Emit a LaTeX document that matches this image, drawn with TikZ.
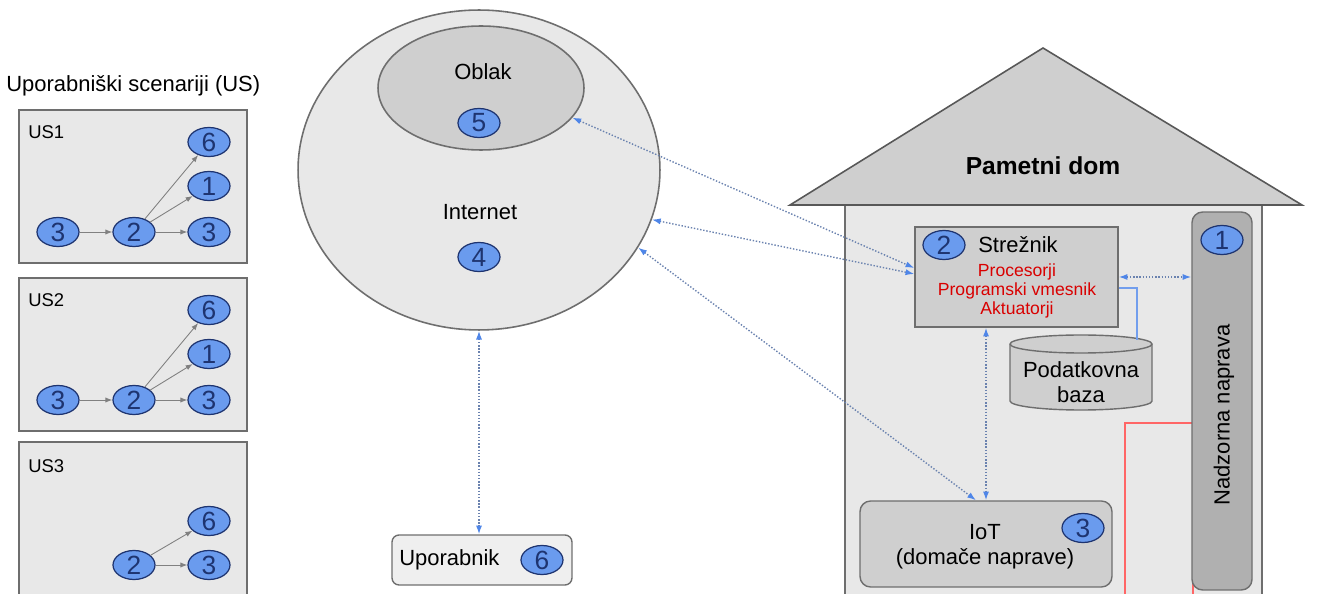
\documentclass[tikz,border=0pt]{standalone}
\usepackage{fontspec}
\setmainfont{Liberation Sans}
\usetikzlibrary{shapes.geometric,arrows.meta,positioning}

\definecolor{badgeblue}{HTML}{6A9BEE}
\definecolor{badgeline}{HTML}{1E3470}
\definecolor{lightbox}{HTML}{E8E8E8}
\definecolor{midbox}{HTML}{CFCFCF}
\definecolor{darkbox}{HTML}{B0B0B0}
\definecolor{edgegray}{HTML}{6E6E6E}
\definecolor{linkblue}{HTML}{4F86E8}

\newcommand{\fsz}[2]{\fontsize{#1pt}{#2pt}\selectfont}

\tikzset{
  usbox/.style={draw=edgegray, fill=lightbox, line width=0.8pt},
  badge/.style={ellipse, draw=badgeline, fill=badgeblue, line width=0.7pt,
    minimum width=0.84cm, minimum height=0.58cm, inner sep=0pt,
    text=badgeline, font=\fsz{15}{15}},
  usarrow/.style={-{Latex[length=4pt,width=3pt]}, draw=gray, line width=0.5pt},
  link/.style={densely dotted, draw=gray!55!linkblue, line width=0.8pt,
    {Latex[length=5pt,width=3.5pt,color=linkblue]}-{Latex[length=5pt,width=3.5pt,color=linkblue]}},
  txt/.style={font=\fsz{12.5}{14.2}, align=center, inner sep=0pt},
}

\begin{document}
\begin{tikzpicture}[x=0.02cm, y=-0.02cm]
\useasboundingbox (0,0) rectangle (1323,594);

% uporabniski scenariji
\node[txt, anchor=west] (ustitle) at (6,86) {Uporabniški scenariji (US)};
\foreach \k/\y in {1/0, 2/168}{
  \draw[usbox] (19,110+\y) rectangle (247,263+\y);
  \node[font=\fsz{10.5}{12}, anchor=west, inner sep=0pt] (us\k) at (28,132+\y) {US\k};
  \node[badge] (us\k-a) at (58,232+\y) {3};
  \node[badge] (us\k-b) at (134,232+\y) {2};
  \node[badge] (us\k-c) at (209,232+\y) {3};
  \node[badge] (us\k-d) at (209,186+\y) {1};
  \node[badge] (us\k-e) at (209,142+\y) {6};
  \draw[usarrow] (us\k-a) -- (us\k-b);
  \draw[usarrow] (us\k-b) -- (us\k-c);
  \draw[usarrow] (us\k-b) -- (us\k-d);
  \draw[usarrow] (us\k-b) -- (us\k-e);
}
\draw[usbox] (19,600) -- (19,442) -- (247,442) -- (247,600);
\node[font=\fsz{10.5}{12}, anchor=west, inner sep=0pt] (us3) at (28,466) {US3};
\node[badge] (us3-b) at (134,565) {2};
\node[badge] (us3-c) at (209,565) {3};
\node[badge] (us3-e) at (209,521) {6};
\draw[usarrow] (us3-b) -- (us3-c);
\draw[usarrow] (us3-b) -- (us3-e);

% internet in oblak
\node[ellipse, draw=edgegray, fill=lightbox, line width=0.9pt,
  minimum width=7.24cm, minimum height=6.4cm] (net) at (479,170) {};
\node[ellipse, draw=edgegray, fill=midbox, line width=0.9pt,
  minimum width=4.12cm, minimum height=2.48cm] (cloud) at (481,88) {};
\node[txt] (cloudtxt) at (483,72) {Oblak};
\node[badge] (n5) at (479,123) {5};
\node[txt] (nettxt) at (480,212) {Internet};
\node[badge] (n4) at (479,257) {4};

% uporabnik
\node[draw=edgegray, fill=lightbox!70!white, rounded corners=4pt, line width=0.8pt,
  minimum width=3.6cm, minimum height=1.0cm] (user) at (482,560) {};
\node[txt, anchor=west] (usertxt) at (399,560) {Uporabnik};
\node[badge] (n6) at (542,560) {6};

% pametni dom
\fill[lightbox] (845,205) rectangle (1262,600);
\draw[edgegray, line width=0.9pt] (845,600) -- (845,205) -- (1262,205) -- (1262,600);
\draw[fill=midbox, draw=edgegray!80!black, line width=0.9pt] (790,205) -- (1043,48) -- (1302,205) -- cycle;
\node[font=\bfseries\fsz{14}{16}] (hometxt) at (1043,166) {Pametni dom};

\node[draw=edgegray, fill=midbox, line width=0.8pt, minimum width=4.06cm, minimum height=2.0cm] (srv) at (1016.5,277) {};
\node[badge] (n2) at (944,245) {2};
\node[txt] (srvtxt) at (1018,245) {Strežnik};
\node[font=\fsz{10}{10.8}, text=red!85!black, align=center] (srvparts) at (1017,291)
  {Procesorji\\Programski vmesnik\\Aktuatorji};

% podatkovna baza
\draw[draw=edgegray, fill=midbox, line width=0.8pt] (1010,344) -- (1010,401)
  arc[start angle=180, end angle=0, x radius=71, y radius=9] -- (1152,344)
  arc[start angle=0, end angle=-180, x radius=71, y radius=9] -- cycle;
\draw[edgegray, line width=0.8pt] (1010,344) arc[start angle=180, end angle=0, x radius=71, y radius=9];
\node[txt] (db) at (1081,382) {Podatkovna\\baza};
\coordinate (dbjoin) at (1137,340);

\draw[red!60, line width=0.7pt] (1125,600) -- (1125,423) -- (1193,423) -- (1193,600);

\node[draw=edgegray, fill=darkbox, rounded corners=6pt, line width=0.8pt,
  minimum width=1.2cm, minimum height=7.56cm] (ctrl) at (1222,401) {};
\node[badge] (n1) at (1222,240) {1};
\node[txt, rotate=90] (ctrltxt) at (1224,415) {Nadzorna naprava};

\node[draw=edgegray, fill=midbox, rounded corners=6pt, line width=0.8pt,
  minimum width=5.04cm, minimum height=1.72cm] (iot) at (986,544) {};
\node[txt] (iottxt) at (985,547) {IoT\\(domače naprave)};
\node[badge] (n3) at (1083,528) {3};

% povezave
\draw[linkblue!80, line width=0.7pt] ([yshift=-0.22cm]srv.east) -| (dbjoin);
\draw[link] (cloud.-18) -- ([yshift=0.18cm]srv.west);
\draw[link] (net.-16) -- ([yshift=0.06cm]srv.west);
\draw[link] (net.-26) -- ([xshift=-0.2cm]iot.north);
\draw[link] (iot.north |- srv.south) -- (iot.north);
\draw[link] (srv.east) -- (srv.east -| ctrl.west);
\draw[link] (net.south) -- (net.south |- user.north);
\end{tikzpicture}
\end{document}
